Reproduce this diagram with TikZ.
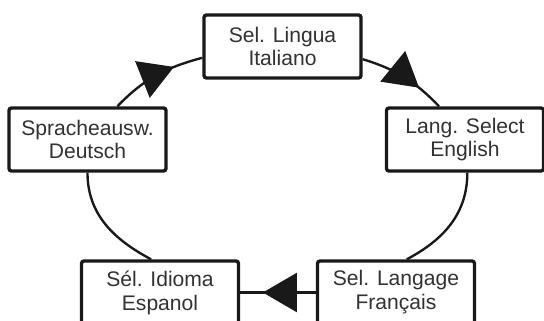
\documentclass[tikz,border=0pt]{standalone}
\usepackage{fontspec}
\setmainfont{Liberation Sans}
\usepackage{xcolor}
\usetikzlibrary{arrows.meta,decorations.markings}
\definecolor{boxline}{RGB}{25,25,25}
\definecolor{labelgray}{RGB}{50,50,50}

\begin{document}
\begin{tikzpicture}[
  every node/.style={font=\fontsize{12}{13.6}\selectfont},
  lnode/.style={
    draw=boxline, fill=white, line width=1.9pt,
    rounded corners=1.4pt, align=center, text=labelgray,
    inner sep=0pt, minimum width=3.14cm, minimum height=1.26cm
  },
  conn/.style={draw=boxline, line width=1.35pt},
  arr/.style={
    conn, postaction={decorate},
    decoration={markings,
      mark=at position 0.7 with {\arrow{Triangle[length=6.8mm,width=7.8mm]}}}
  }
]
\useasboundingbox (0,0) rectangle (10.88,6.4);

\node[lnode] (ITA) at (5.65, 5.47) {Sel. Lingua\\Italiano};
\node[lnode] (DEU) at (1.75, 3.61) {Spracheausw.\\Deutsch};
\node[lnode] (ENG) at (9.30, 3.61) {Lang. Select\\English};
\node[lnode] (ESP) at (3.20, 0.55) {Sél. Idioma\\Espanol};
\node[lnode] (FRA) at (7.92, 0.55) {Sel. Langage\\Français};

%% Kreis im Uhrzeigersinn
\draw[arr]  (DEU.48)  to[out=46,  in=195] (ITA.188);
\draw[arr]  (ITA.-9)  to[out=-17, in=134] (ENG.128);
\draw[conn] (ENG.-86) to[out=-90, in=28]  (FRA.72);
\draw[arr]  (FRA.west) -- (ESP.east);
\draw[conn] (ESP.105) to[out=152, in=-90] (DEU.south);

\end{tikzpicture}
\end{document}
